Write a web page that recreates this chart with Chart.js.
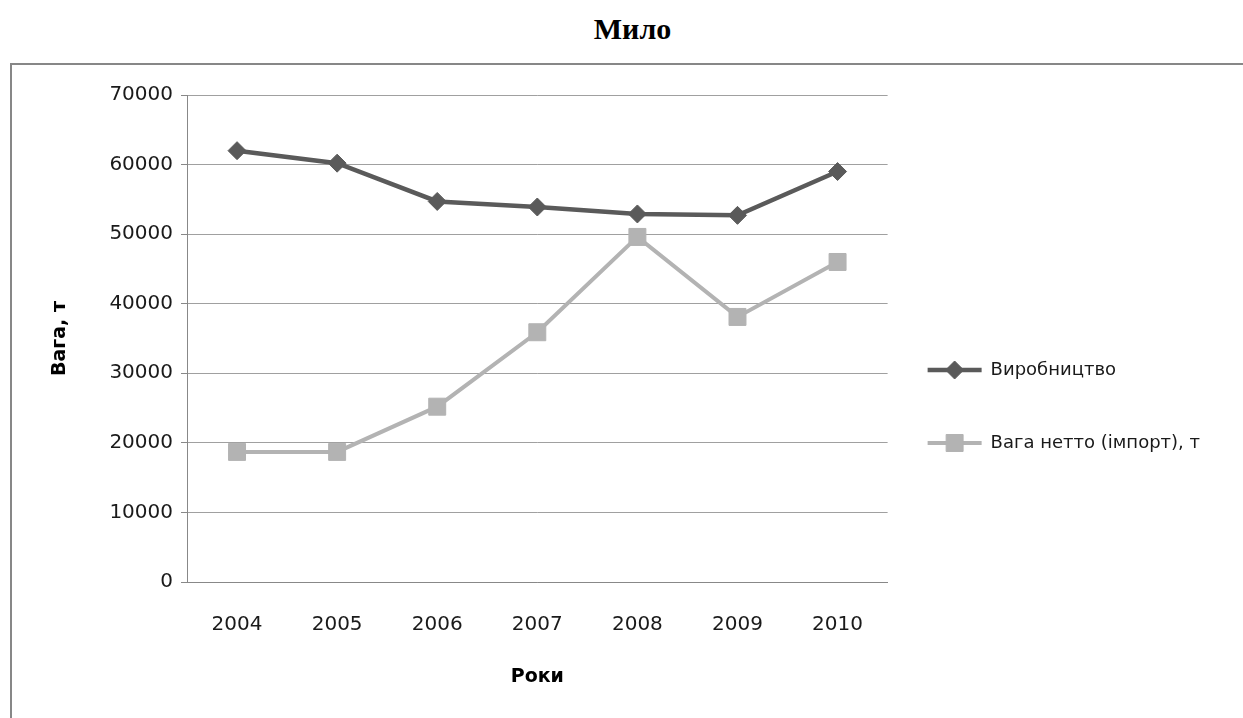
<!DOCTYPE html>
<html lang="uk">
<head>
<meta charset="UTF-8">
<title>Мило</title>
<style>
  body {
    margin: 0;
    width: 1243px;
    height: 718px;
    overflow: hidden;
    position: relative;
    background: #fff;
  }
  #title {
    position: absolute;
    left: 0;
    top: 14px;
    width: 1265px;
    text-align: center;
    font: bold 30px/30px "Liberation Serif", "Times New Roman", serif;
    color: #000;
  }
  .frame {
    position: absolute;
    left: 10px;
    top: 63px;
    width: 1300px;
    height: 720px;
    border: 2px solid #878787;
  }
  #chart {
    position: absolute;
    left: 0;
    top: 0;
  }
</style>
</head>
<body>
<div id="title">Мило</div>
<div class="frame"></div>
<canvas id="chart" width="1243" height="718"></canvas>

<script src="https://cdn.jsdelivr.net/npm/chart.js"></script>
<script>
  const years = ['2004', '2005', '2006', '2007', '2008', '2009', '2010'];
  const production = [62000, 60200, 54700, 53900, 52900, 52700, 59000];
  const importNet = [18700, 18700, 25200, 35900, 49600, 38100, 46000];
  const seriesNames = ['Виробництво', 'Вага нетто (імпорт), т'];
  const yMin = 0, yMax = 70000, yStep = 10000;

  const darkGrey = '#5a5a5a';
  const lightGrey = '#b3b3b3';
  const sampleWidth = 54;

  Chart.defaults.font.family = '"DejaVu Sans", sans-serif';
  Chart.defaults.color = '#1a1a1a';

  // legend samples: line with the marker in the middle, like the original
  const legendSamples = {
    id: 'legendSamples',
    afterDraw(chart) {
      const ctx = chart.ctx;
      chart.legend.legendHitBoxes.forEach((box, i) => {
        const ds = chart.data.datasets[i];
        const y = box.top + box.height / 2;
        ctx.save();
        ctx.strokeStyle = ds.borderColor;
        ctx.lineWidth = ds.borderWidth;
        ctx.beginPath();
        ctx.moveTo(box.left, y);
        ctx.lineTo(box.left + sampleWidth, y);
        ctx.stroke();
        ctx.fillStyle = ds.pointBackgroundColor;
        ctx.strokeStyle = ds.pointBorderColor;
        ctx.lineWidth = 1;
        Chart.helpers.drawPoint(ctx, {
          pointStyle: ds.pointStyle,
          radius: ds.pointRadius,
          borderWidth: 1,
          rotation: 0
        }, box.left + sampleWidth / 2, y);
        ctx.restore();
      });
    }
  };

  const ctx = document.getElementById('chart').getContext('2d');

  new Chart(ctx, {
    type: 'line',
    data: {
      labels: years,
      datasets: [{
        label: seriesNames[0],
        data: production,
        borderColor: darkGrey,
        borderWidth: 4.5,
        pointStyle: 'rectRot',
        pointRadius: 9,
        pointBackgroundColor: darkGrey,
        pointBorderColor: darkGrey,
        pointBorderWidth: 1,
        tension: 0
      }, {
        label: seriesNames[1],
        data: importNet,
        borderColor: lightGrey,
        borderWidth: 4,
        pointStyle: 'rect',
        pointRadius: 12,
        pointBackgroundColor: lightGrey,
        pointBorderColor: lightGrey,
        pointBorderWidth: 1,
        tension: 0
      }]
    },
    options: {
      responsive: false,
      animation: false,
      layout: {
        padding: { top: 95, left: 0, right: 33, bottom: 0 }
      },
      scales: {
        x: {
          offset: true,
          grid: { display: false, drawTicks: false },
          border: { display: true, color: '#888', width: 1 },
          ticks: { padding: 31, font: { size: 20 } },
          title: {
            display: true,
            text: 'Роки',
            color: '#000',
            font: { size: 19, weight: 'bold' },
            padding: { top: 0, bottom: 30 }
          },
          afterFit(scale) { scale.height = 136; }
        },
        y: {
          min: yMin,
          max: yMax,
          ticks: {
            stepSize: yStep,
            padding: 8,
            font: { size: 20 },
            callback: (value) => String(value)
          },
          grid: { color: '#a0a0a0', tickColor: '#888', tickLength: 6 },
          border: { display: true, color: '#888', width: 1 },
          title: {
            display: true,
            text: 'Вага, т',
            color: '#000',
            font: { size: 19, weight: 'bold' },
            padding: { top: 49, bottom: 0 }
          },
          afterFit(scale) { scale.width = 187; }
        }
      },
      plugins: {
        tooltip: { enabled: false },
        legend: {
          position: 'right',
          align: 'center',
          maxWidth: 400,
          labels: {
            boxWidth: sampleWidth,
            boxHeight: 33,
            padding: 40,
            font: { size: 18 },
            generateLabels: (chart) => chart.data.datasets.map((ds, i) => ({
              text: ds.label,
              fillStyle: 'rgba(0,0,0,0)',
              strokeStyle: 'rgba(0,0,0,0)',
              lineWidth: 0,
              fontColor: '#1a1a1a',
              hidden: false,
              datasetIndex: i
            }))
          }
        }
      }
    },
    plugins: [legendSamples]
  });
</script>
</body>
</html>
